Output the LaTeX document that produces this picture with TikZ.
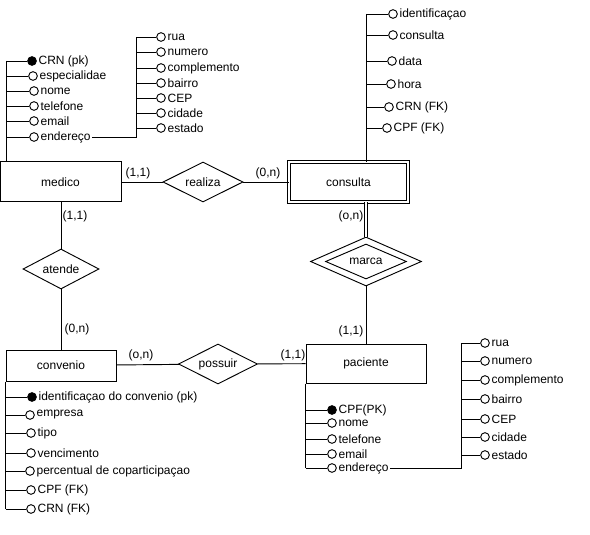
\documentclass[tikz,border=0pt]{standalone}
\usepackage{fontspec}
\setmainfont{Liberation Sans}
\usetikzlibrary{shapes.geometric}

\tikzset{
  ent/.style 2 args={draw, fill=white, line width=0.75pt,
    minimum width=#1*0.75pt, minimum height=#2*0.75pt},
  rel/.style 2 args={diamond, aspect=2, draw, fill=white, inner sep=0pt,
    minimum width=#1*0.75pt, minimum height=#2*0.75pt},
  bola/.style={circle, draw, fill=white, inner sep=0pt, minimum size=6.5pt},
  lbl/.style={inner sep=1pt},
  attr/.style={bola, label={[lbl]right:#1}},
  pk/.style={attr=#1, fill=black},
}

\begin{document}
\begin{tikzpicture}[x=0.75pt, y=-0.75pt, line width=0.7pt,
    font=\fontsize{9}{11}\selectfont]
  \useasboundingbox (0,0) rectangle (590,535);

  % entidades e relacionamentos
  \node[ent={121}{40}] (medico) at (60.5,182) {medico};
  \node[ent={119}{40}, line width=0.6pt, double, double distance=2pt] (consulta) at (348.5,182) {consulta};
  \node[ent={110}{31}] (convenio) at (61,365.5) {convenio};
  \node[ent={120}{39}] (paciente) at (366,363.5) {paciente};

  \node[rel={80}{40}] (realiza) at (203,182) {realiza};
  \node[rel={76}{40}] (atende) at (61,269) {atende};
  \node[rel={79}{40}] (possuir) at (218,364) {possuir};
  \node[rel={111}{49}] (marca) at (366,261.5) {};
  \node[rel={81}{35}] (marcain) at (marca) {marca};

  \draw (medico) -- (realiza) -- (consulta);
  \draw (medico.south -| atende) -- (atende) -- (convenio);
  \draw (convenio) -- (possuir) -- (paciente);
  \draw[line width=0.6pt, double, double distance=1.5pt] (marca.north |- consulta.south) -- (marca.north);
  \draw (marca.south) -- (paciente.north -| marca.south);

  % cardinalidades
  \node (c1) at (138,173) {(1,1)};
  \node (c2) at (268,173) {(0,n)};
  \node (c3) at (75,216) {(1,1)};
  \node (c4) at (77,329) {(0,n)};
  \node (c5) at (351,216) {(o,n)};
  \node (c6) at (351,331) {(1,1)};
  \node (c7) at (141,355) {(o,n)};
  \node (c8) at (293,355) {(1,1)};

  % atributos de medico
  \coordinate (mt) at (6,61);
  \node[pk=CRN (pk)] (mcrn) at (32,61) {};
  \node[attr=especialidae] (mesp) at (33,76) {};
  \node[attr=nome] (mnome) at (34,91) {};
  \node[attr=telefone] (mtel) at (34,106) {};
  \node[attr=email] (memail) at (34,121) {};
  \node[bola, label={[lbl, name=mendt]right:endereço}] (mend) at (34,137) {};
  \draw (mt) -- (mt |- medico.north);
  \draw (mt |- mcrn) -- (mcrn);
  \draw (mt |- mesp) -- (mesp);
  \draw (mt |- mnome) -- (mnome);
  \draw (mt |- mtel) -- (mtel);
  \draw (mt |- memail) -- (memail);
  \draw (mt |- mend) -- (mend);

  \coordinate (ma) at (136,37);
  \node[attr=rua] (mrua) at (161,37) {};
  \node[attr=numero] (mnum) at (161,52) {};
  \node[attr=complemento] (mcomp) at (161,68) {};
  \node[attr=bairro] (mbai) at (161,83) {};
  \node[attr=CEP] (mcep) at (161,98) {};
  \node[attr=cidade] (mcid) at (161,113) {};
  \node[attr=estado] (mest) at (161,128) {};
  \draw (mendt.east) -- (ma |- mend) -- (ma);
  \draw (ma |- mrua) -- (mrua);
  \draw (ma |- mnum) -- (mnum);
  \draw (ma |- mcomp) -- (mcomp);
  \draw (ma |- mbai) -- (mbai);
  \draw (ma |- mcep) -- (mcep);
  \draw (ma |- mcid) -- (mcid);
  \draw (ma |- mest) -- (mest);

  % atributos de consulta
  \coordinate (ct) at (366,14);
  \node[attr=identificaçao] (cid) at (393,14) {};
  \node[attr=consulta] (ccons) at (393,35) {};
  \node[attr=data] (cdata) at (392,61) {};
  \node[attr=hora] (chora) at (391,84) {};
  \node[attr=CRN (FK)] (ccrn) at (389,107) {};
  \node[attr=CPF (FK)] (ccpf) at (387,128) {};
  \draw (ct) -- (ct |- consulta.north);
  \draw (ct |- cid) -- (cid);
  \draw (ct |- ccons) -- (ccons);
  \draw (ct |- cdata) -- (cdata);
  \draw (ct |- chora) -- (chora);
  \draw (ct |- ccrn) -- (ccrn);
  \draw (ct |- ccpf) -- (ccpf);

  % atributos de convenio
  \node[pk=identificaçao do convenio (pk)] (vid) at (32,397) {};
  \node[attr=empresa] (vemp) at (30,415) {};
  \node[attr=tipo] (vtipo) at (31,433) {};
  \node[attr=vencimento] (vvenc) at (31,453) {};
  \node[attr=percentual de coparticipaçao] (vperc) at (30,471) {};
  \node[attr=CPF (FK)] (vcpf) at (31,490) {};
  \node[attr=CRN (FK)] (vcrn) at (31,509) {};
  \draw (convenio.south west) -- (convenio.south west |- vcrn);
  \draw (convenio.south west |- vid) -- (vid);
  \draw (convenio.south west |- vemp) -- (vemp);
  \draw (convenio.south west |- vtipo) -- (vtipo);
  \draw (convenio.south west |- vvenc) -- (vvenc);
  \draw (convenio.south west |- vperc) -- (vperc);
  \draw (convenio.south west |- vcpf) -- (vcpf);
  \draw (convenio.south west |- vcrn) -- (vcrn);

  % atributos de paciente
  \node[pk=CPF(PK)] (pcpf) at (332,410) {};
  \node[attr=nome] (pnome) at (332,423) {};
  \node[attr=telefone] (ptel) at (332,439) {};
  \node[attr=email] (pemail) at (332,454) {};
  \node[bola, label={[lbl, name=pendt]right:endereço}] (pend) at (332,468) {};
  \draw (paciente.south west) -- (paciente.south west |- pend);
  \draw (paciente.south west |- pcpf) -- (pcpf);
  \draw (paciente.south west |- pnome) -- (pnome);
  \draw (paciente.south west |- ptel) -- (ptel);
  \draw (paciente.south west |- pemail) -- (pemail);
  \draw (paciente.south west |- pend) -- (pend);

  \coordinate (pa) at (461,343);
  \node[attr=rua] (prua) at (485,343) {};
  \node[attr=numero] (pnum) at (485,361) {};
  \node[attr=complemento] (pcomp) at (485,380) {};
  \node[attr=bairro] (pbai) at (485,399) {};
  \node[attr=CEP] (pcep) at (485,419) {};
  \node[attr=cidade] (pcid) at (485,437) {};
  \node[attr=estado] (pest) at (485,455) {};
  \draw (pendt.east) -- (pa |- pend) -- (pa);
  \draw (pa |- prua) -- (prua);
  \draw (pa |- pnum) -- (pnum);
  \draw (pa |- pcomp) -- (pcomp);
  \draw (pa |- pbai) -- (pbai);
  \draw (pa |- pcep) -- (pcep);
  \draw (pa |- pcid) -- (pcid);
  \draw (pa |- pest) -- (pest);
\end{tikzpicture}
\end{document}
